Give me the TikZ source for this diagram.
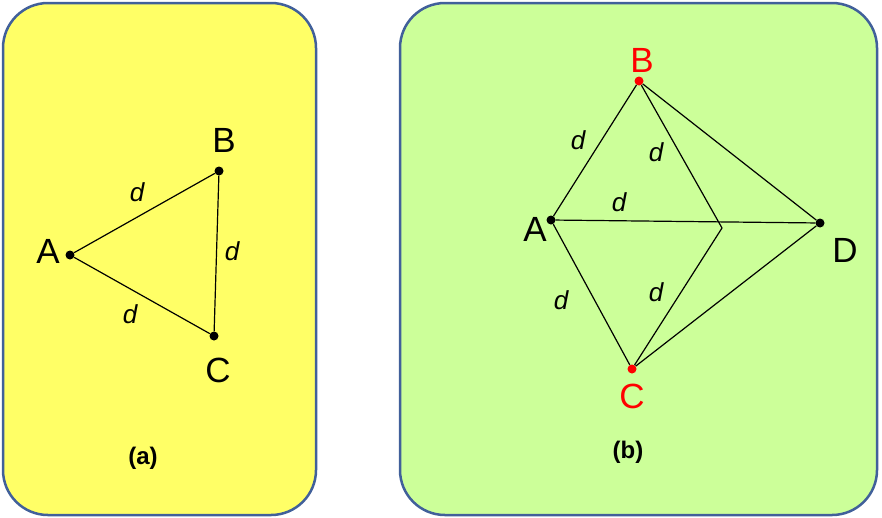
\documentclass[tikz,border=0pt]{standalone}
\usepackage{fontspec}
\setmainfont{Liberation Sans}
\begin{document}
\begin{tikzpicture}[x=1pt,y=-1pt,
  panel/.style={draw=frameblue,line width=2.5pt,rounded corners=45pt},
  pt/.style={circle,fill=black,inner sep=0pt,minimum size=9pt},
  rpt/.style={circle,fill=red,inner sep=0pt,minimum size=9pt},
  lab/.style={font=\fontsize{35}{36}\selectfont},
  dl/.style={font=\fontsize{26}{28}\selectfont\itshape},
  captext/.style={font=\fontsize{24}{26}\selectfont\bfseries},
  edge/.style={line width=1.2pt}]
\definecolor{frameblue}{HTML}{41609A}
\definecolor{yel}{HTML}{FFFF66}
\definecolor{grn}{HTML}{CCFF99}
\useasboundingbox (0,0) rectangle (882,517);
\draw[panel,fill=yel] (3,3) rectangle (316,515);
\draw[panel,fill=grn] (400,3) rectangle (877,515);
% (a)
\node[pt] (A) at (70,255) {};
\node[pt] (B) at (219,171) {};
\node[pt] (C) at (214,336) {};
\draw[edge] (A)--(B) (B)--(C) (C)--(A);
\node[lab] (la) at (48,251) {A};
\node[lab] (lb) at (224,140) {B};
\node[lab] (lc) at (218,370) {C};
\node[dl] (d1) at (137,192) {d};
\node[dl] (d2) at (232,251) {d};
\node[dl] (d3) at (130,314) {d};
\node[captext] (ca) at (143,458) {(a)};
% (b)
\node[rpt] (B2) at (639,81) {};
\node[pt] (A2) at (551,220) {};
\node[pt] (D2) at (820,223) {};
\node[rpt] (C2) at (632,369) {};
\coordinate (E2) at (722,228);
\draw[edge] (A2)--(B2) (B2)--(E2) (B2)--(D2) (A2)--(D2) (A2)--(C2) (E2)--(C2) (C2)--(D2);
\node[lab,text=red] (lb2) at (642,60) {B};
\node[lab] (la2) at (535,229) {A};
\node[lab] (ld2) at (845,250) {D};
\node[lab,text=red] (lc2) at (632,396) {C};
\node[dl] (e1) at (578,140) {d};
\node[dl] (e2) at (656,152) {d};
\node[dl] (e3) at (619,202) {d};
\node[dl] (e4) at (561,300) {d};
\node[dl] (e5) at (656,292) {d};
\node[captext] (cb) at (628,452) {(b)};
\end{tikzpicture}
\end{document}
